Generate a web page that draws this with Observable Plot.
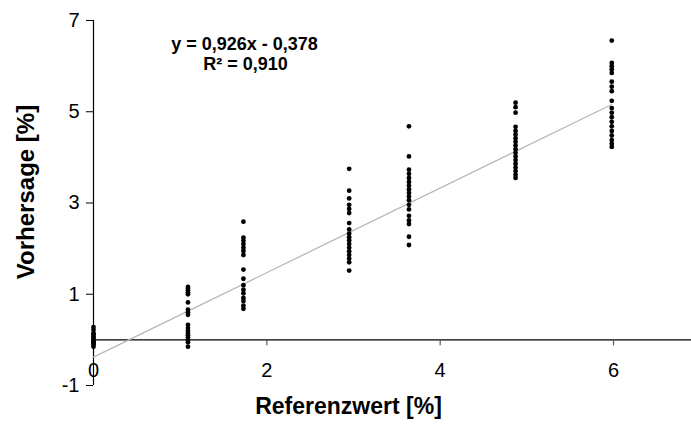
<!DOCTYPE html>
<html>
<head>
<meta charset="utf-8">
<script src="https://cdn.jsdelivr.net/npm/d3@7"></script>
<script src="https://cdn.jsdelivr.net/npm/@observablehq/plot@0.6"></script>
<style>
  html, body { margin: 0; padding: 0; background: #fff; }
  svg { display: block; }
</style>
</head>
<body>
<div id="chart"></div>
<script>
// Reference values (x) and predictions (y) per group
const ref0 = 0;
const pred0 = [0.28, 0.22, 0.15, 0.12, 0.08, 0.04, 0.0, -0.03, -0.06, -0.08, -0.1, -0.15];
const ref1 = 1.09;
const pred1 = [1.16, 1.12, 1.08, 1.04, 1.0, 0.82, 0.66, 0.6, 0.55, 0.33, 0.26, 0.2, 0.15, 0.1, 0.05, 0.0, -0.05, -0.15];
const ref2 = 1.73;
const pred2 = [2.59, 2.24, 2.17, 2.1, 2.02, 1.95, 1.86, 1.54, 1.34, 1.2, 1.1, 1.02, 0.92, 0.85, 0.75, 0.68];
const ref3 = 2.95;
const pred3 = [3.75, 3.27, 3.1, 2.96, 2.87, 2.78, 2.56, 2.42, 2.33, 2.25, 2.18, 2.1, 2.02, 1.94, 1.86, 1.78, 1.7, 1.52];
const ref4 = 3.64;
const pred4 = [4.68, 4.02, 3.73, 3.64, 3.55, 3.46, 3.38, 3.3, 3.22, 3.14, 3.06, 2.96, 2.86, 2.72, 2.62, 2.54, 2.26, 2.08];
const ref5 = 4.87;
const pred5 = [5.2, 5.1, 4.98, 4.67, 4.58, 4.5, 4.42, 4.34, 4.26, 4.18, 4.1, 4.02, 3.94, 3.86, 3.78, 3.7, 3.62, 3.55];
const ref6 = 5.98;
const pred6 = [6.56, 6.07, 6.0, 5.93, 5.85, 5.66, 5.55, 5.45, 5.24, 5.08, 4.98, 4.88, 4.78, 4.68, 4.58, 4.48, 4.38, 4.3, 4.23];

// Regression
const slope = 0.926;
const intercept = -0.378;
const fitRange = [0, 5.98];
const eqText = ["y = 0,926x - 0,378", "R² = 0,910"];

// Axes
const xTicks = [0, 2, 4, 6];
const yTicks = [-1, 1, 3, 5, 7];
const xLabel = "Referenzwert [%]";
const yLabel = "Vorhersage [%]";

const groups = [[ref0, pred0], [ref1, pred1], [ref2, pred2], [ref3, pred3], [ref4, pred4], [ref5, pred5], [ref6, pred6]];
const points = groups.flatMap(([x, ys]) => ys.map(y => ({x, y})));
const fitLine = fitRange.map(x => ({x, y: slope * x + intercept}));

const font = "'Liberation Sans', Arial, sans-serif";
const tickLen = 0.13; // in y units (~6px)

const plot = Plot.plot({
  width: 691,
  height: 426,
  marginLeft: 93,
  marginRight: 0,
  marginTop: 20,
  marginBottom: 41,
  style: {fontFamily: font, background: "#fff", color: "#000"},
  x: {domain: [0, 6.9], axis: null},
  y: {domain: [-1, 7], axis: null},
  marks: [
    // y axis line
    Plot.ruleX([0], {y1: -1, y2: 7, stroke: "#000", strokeWidth: 1.2}),
    Plot.axisY(yTicks, {anchor: "left", tickSize: 7, tickPadding: 7, fontSize: 20, label: null, stroke: "#000", tickFormat: d => String(d)}),
    // x axis along y = 0
    Plot.ruleY([0], {stroke: "#000", strokeWidth: 1.2}),
    Plot.ruleX(xTicks.filter(d => d > 0), {x: d => d, y1: 0, y2: -tickLen, stroke: "#555", strokeWidth: 1.2}),
    Plot.text(xTicks, {x: d => d, y: 0, dy: 31, text: d => String(d), fontSize: 20, fill: "#000"}),
    // regression line
    Plot.line(fitLine, {x: "x", y: "y", stroke: "#b8b8b8", strokeWidth: 1.3}),
    // data
    Plot.dot(points, {x: "x", y: "y", r: 2.4, fill: "#000", stroke: null}),
    // equation
    Plot.text([eqText[0]], {frameAnchor: "top-left", textAnchor: "middle", dx: 151, dy: 17, text: d => d, fontSize: 18, fontWeight: "bold", fill: "#000"}),
    Plot.text([eqText[1]], {frameAnchor: "top-left", textAnchor: "middle", dx: 152, dy: 37, text: d => d, fontSize: 18, fontWeight: "bold", fill: "#000"}),
    // axis titles
    Plot.text([xLabel], {frameAnchor: "bottom", textAnchor: "middle", dx: -44, dy: 28, text: d => d, fontSize: 23, fontWeight: "bold", fill: "#000"}),
    Plot.text([yLabel], {frameAnchor: "left", textAnchor: "middle", dx: -67, dy: -11, rotate: -90, text: d => d, fontSize: 24, fontWeight: "bold", fill: "#000"})
  ]
});
document.getElementById("chart").appendChild(plot);
</script>
</body>
</html>
